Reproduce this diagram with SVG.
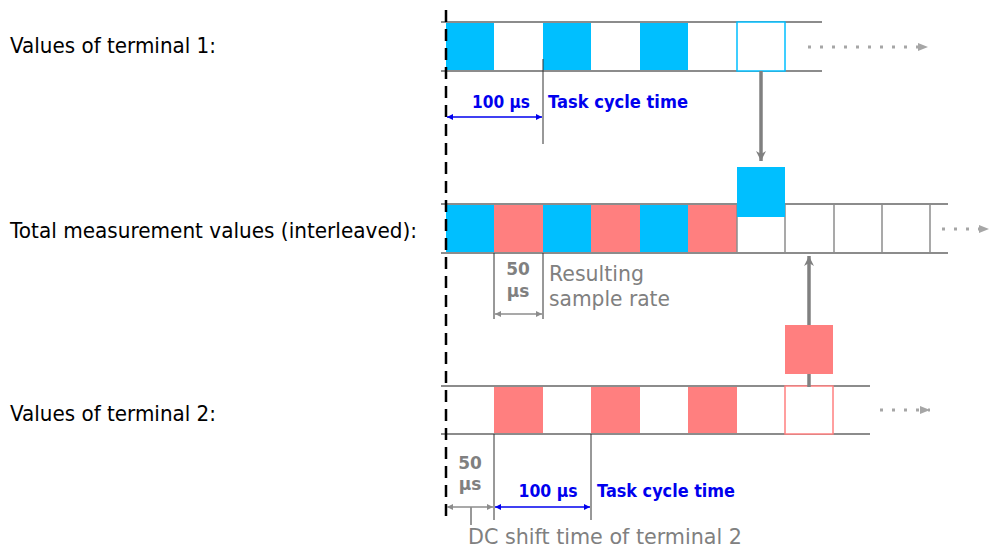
<svg xmlns="http://www.w3.org/2000/svg" width="989" height="549" viewBox="0 0 989 549">
<defs>
<style>
.lbl{font-family:"DejaVu Sans","Liberation Sans",sans-serif;font-size:20.5px;fill:#000}
.gt{font-family:"DejaVu Sans","Liberation Sans",sans-serif;font-size:21.5px;fill:#808080}
.gb{font-family:"DejaVu Sans","Liberation Sans",sans-serif;font-size:17px;font-weight:bold;fill:#808080}
.bt{font-family:"DejaVu Sans","Liberation Sans",sans-serif;font-size:18.5px;font-weight:bold;fill:#0000ee}
.rail{stroke:#8c8c8c;stroke-width:2;fill:none}
.blue{fill:#00bfff}
.pink{fill:#ff7f7f}
.div{stroke:#8c8c8c;stroke-width:1.5}
.thin{stroke:#333;stroke-width:1}
.dot{stroke:#a6a6a6;stroke-width:3;stroke-dasharray:3 9;fill:none}
.dimb{stroke:#0000ee;stroke-width:1.5;marker-start:url(#ab);marker-end:url(#ab)}
.dimg{stroke:#8c8c8c;stroke-width:1.5;marker-start:url(#ag);marker-end:url(#ag)}
.conn{stroke:#808080;stroke-width:3.5;fill:none}
</style>
<marker id="ab" viewBox="0 0 10 10" refX="10" refY="5" markerWidth="6" markerHeight="6" orient="auto-start-reverse" markerUnits="userSpaceOnUse"><path d="M0,0 L10,5 L0,10 z" fill="#0000ee"/></marker>
<marker id="ag" viewBox="0 0 10 10" refX="10" refY="5" markerWidth="6" markerHeight="6" orient="auto-start-reverse" markerUnits="userSpaceOnUse"><path d="M0,0 L10,5 L0,10 z" fill="#8c8c8c"/></marker>
<marker id="ad" viewBox="0 0 10 10" refX="10" refY="5" markerWidth="14" markerHeight="10" orient="auto" markerUnits="userSpaceOnUse"><path d="M0,1 L10,5 L0,9 z" fill="#a6a6a6"/></marker>
<marker id="ac" viewBox="0 0 10 10" refX="10" refY="5" markerWidth="12" markerHeight="10" orient="auto" markerUnits="userSpaceOnUse"><path d="M0,0 L10,5 L0,10 L3,5 z" fill="#808080"/></marker>
</defs>
<rect width="989" height="549" fill="#fff"/>

<g id="labels">
<text class="lbl" x="10" y="53" textLength="206" lengthAdjust="spacingAndGlyphs">Values of terminal 1:</text>
<text class="lbl" x="10" y="238" textLength="407" lengthAdjust="spacingAndGlyphs">Total measurement values (interleaved):</text>
<text class="lbl" x="10" y="421" textLength="206" lengthAdjust="spacingAndGlyphs">Values of terminal 2:</text>
</g>

<g id="terminal1">
<rect class="blue" x="446" y="22" width="48" height="49"/>
<rect class="blue" x="543" y="22" width="48" height="49"/>
<rect class="blue" x="640" y="22" width="48" height="49"/>
<line class="rail" x1="441" y1="22" x2="822" y2="22"/>
<line class="rail" x1="441" y1="71" x2="822" y2="71"/>
<rect x="737" y="22" width="48" height="49" fill="#fff" stroke="#00bfff" stroke-width="1.5"/>
</g>

<g id="total">
<rect class="blue" x="446" y="204" width="48" height="49"/>
<rect class="pink" x="494" y="204" width="49" height="49"/>
<rect class="blue" x="543" y="204" width="48" height="49"/>
<rect class="pink" x="591" y="204" width="49" height="49"/>
<rect class="blue" x="640" y="204" width="48" height="49"/>
<rect class="pink" x="688" y="204" width="49" height="49"/>
<line class="div" x1="737" y1="204" x2="737" y2="253"/>
<line class="div" x1="785" y1="204" x2="785" y2="253"/>
<line class="div" x1="834" y1="204" x2="834" y2="253"/>
<line class="div" x1="882" y1="204" x2="882" y2="253"/>
<line class="div" x1="930" y1="204" x2="930" y2="253"/>
<line class="rail" x1="441" y1="204" x2="948" y2="204"/>
<line class="rail" x1="441" y1="253" x2="948" y2="253"/>
</g>

<g id="terminal2">
<rect class="pink" x="494" y="386" width="49" height="48"/>
<rect class="pink" x="591" y="386" width="49" height="48"/>
<rect class="pink" x="688" y="386" width="49" height="48"/>
<line class="rail" x1="441" y1="386" x2="870" y2="386"/>
<line class="rail" x1="441" y1="434" x2="870" y2="434"/>
<rect x="785" y="386" width="48" height="48" fill="#fff" stroke="#ff8080" stroke-width="1.5"/>
</g>

<g id="connectors">
<line class="dot" x1="808" y1="47" x2="928" y2="47" marker-end="url(#ad)"/>
<line class="dot" x1="942" y1="229" x2="989" y2="229" marker-end="url(#ad)"/>
<line class="dot" x1="880" y1="410" x2="930" y2="410" marker-end="url(#ad)"/>
<line class="conn" x1="761" y1="71" x2="761" y2="161" marker-end="url(#ac)"/>
<line class="conn" x1="809" y1="387" x2="809" y2="256" marker-end="url(#ac)"/>
</g>

<g id="moved-blue">
<rect class="blue" x="737" y="167" width="48" height="50"/>
</g>
<g id="moved-pink">
<rect class="pink" x="785" y="325" width="48" height="49"/>
</g>

<g id="time-zero">
<line x1="446" y1="10" x2="446" y2="522" stroke="#000" stroke-width="2.5" stroke-dasharray="12 7"/>
</g>

<g id="dim-top">
<line class="thin" x1="543" y1="59" x2="543" y2="144"/>
<line class="dimb" x1="447" y1="117" x2="542" y2="117"/>
<text class="bt" x="501" y="108" text-anchor="middle" textLength="58" lengthAdjust="spacingAndGlyphs">100 µs</text>
<text class="bt" x="548" y="108" textLength="140" lengthAdjust="spacingAndGlyphs">Task cycle time</text>
</g>

<g id="dim-middle">
<line class="thin" x1="494" y1="253" x2="494" y2="319"/>
<line class="thin" x1="543" y1="253" x2="543" y2="319"/>
<line class="dimg" x1="495" y1="314" x2="542" y2="314"/>
<text class="gb" x="518" y="275" text-anchor="middle">50</text>
<text class="gb" x="518" y="297" text-anchor="middle">µs</text>
<text class="gt" x="549" y="281" textLength="95" lengthAdjust="spacingAndGlyphs">Resulting</text>
<text class="gt" x="549" y="306" textLength="121" lengthAdjust="spacingAndGlyphs">sample rate</text>
</g>

<g id="dim-bottom">
<line class="thin" x1="494" y1="434" x2="494" y2="520"/>
<line class="thin" x1="591" y1="434" x2="591" y2="520"/>
<line class="thin" x1="471" y1="507" x2="471" y2="525" stroke="#808080"/>
<line class="dimg" x1="447" y1="507" x2="493" y2="507"/>
<line class="dimb" x1="495" y1="507" x2="590" y2="507"/>
<text class="gb" x="470" y="469" text-anchor="middle">50</text>
<text class="gb" x="470" y="490" text-anchor="middle">µs</text>
<text class="bt" x="548" y="497" text-anchor="middle" textLength="59" lengthAdjust="spacingAndGlyphs">100 µs</text>
<text class="bt" x="597" y="497" textLength="138" lengthAdjust="spacingAndGlyphs">Task cycle time</text>
<text class="gt" x="468" y="544" font-size="22" textLength="274" lengthAdjust="spacingAndGlyphs">DC shift time of terminal 2</text>
</g>
</svg>
